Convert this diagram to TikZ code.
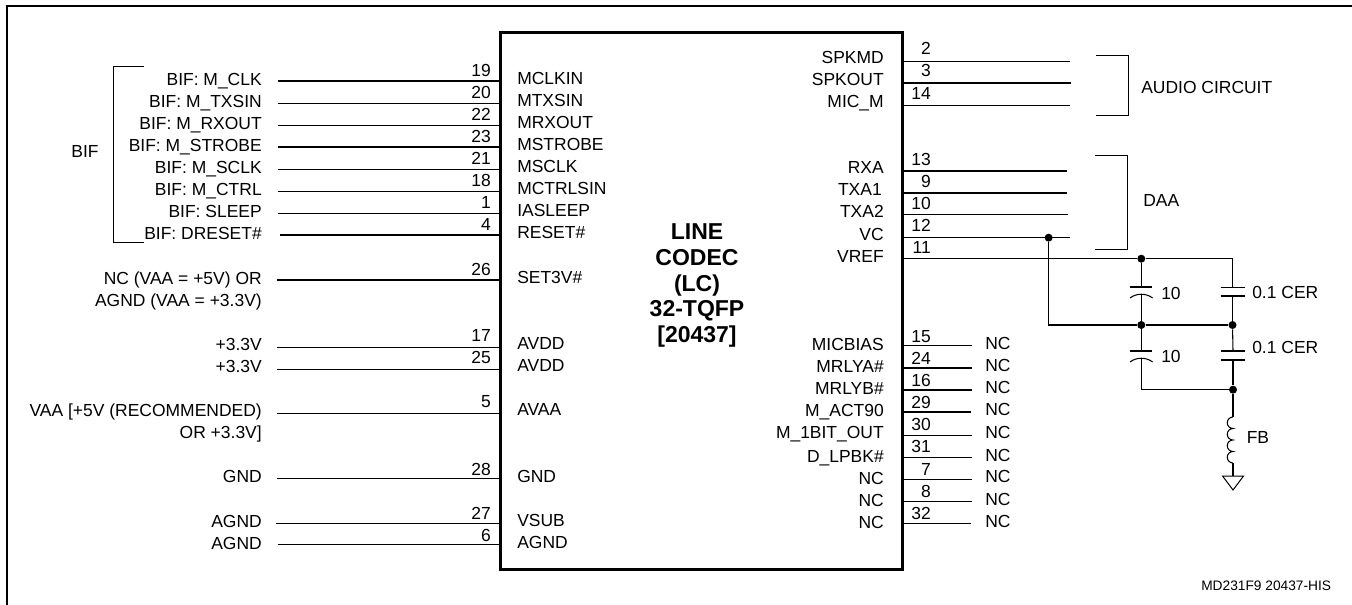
\documentclass[tikz,border=0pt]{standalone}
\usepackage{fontspec}
\setmainfont{Liberation Sans}
\usetikzlibrary{positioning, calc}
\tikzstyle{frameline} = [line width=1.5pt]
\tikzstyle{chipbox} = [rectangle, draw=black, line width=2.25pt, inner sep=0pt, minimum width=301pt, minimum height=403pt]
\tikzstyle{wire} = [line width=0.8pt]
\tikzstyle{heavywire} = [line width=1.3pt]
\tikzstyle{bracket} = [line width=0.75pt]
\tikzstyle{sig} = [inner sep=0pt, anchor=base east, font=\fontsize{13.1}{15}\selectfont]
\tikzstyle{pinname} = [inner sep=0pt, anchor=base west, font=\fontsize{13.1}{15}\selectfont]
\tikzstyle{outname} = [inner sep=0pt, anchor=base east, font=\fontsize{13.1}{15}\selectfont]
\tikzstyle{pinnum} = [inner sep=0pt, anchor=base east, font=\fontsize{13.1}{15}\selectfont]
\tikzstyle{note} = [inner sep=0pt, anchor=base west, font=\fontsize{13.1}{15}\selectfont]
\tikzstyle{dot} = [circle, fill=black, inner sep=0pt, minimum size=6pt]
\begin{document}
\begin{tikzpicture}[x=0.75pt, y=-0.75pt]
\useasboundingbox (0,0) rectangle (1352,605);

% Outer frame
\coordinate (frame_bl) at (6.5,605);
\coordinate (frame_tl) at (6.5,6);
\coordinate (frame_tr) at (1352,6);
\draw[frameline] (frame_bl) -- (frame_tl) -- (frame_tr);

% Chip
\node[chipbox] (chip) at (701.5,301) {};
\node[inner sep=0pt, align=center, font=\fontsize{17.25}{19.3}\bfseries\selectfont] (chip_title) at (697,285.5) {LINE\\CODEC\\(LC)\\32-TQFP\\{[20437]}};

% BIF group
\node[sig, anchor=base] (bif_label) at (85,158) {BIF};
\coordinate (bif_t) at (144,66.5);
\coordinate (bif_b) at (144,243);
\draw[bracket] (bif_t) -- ++(-31,0) |- (bif_b);

% Left signals
\node[sig] (s_clk) at (262,86) {BIF: M\_CLK};
\node[sig] (s_txsin) at (262,108) {BIF: M\_TXSIN};
\node[sig] (s_rxout) at (262,130) {BIF: M\_RXOUT};
\node[sig] (s_strobe) at (262,152) {BIF: M\_STROBE};
\node[sig] (s_sclk) at (262,174) {BIF: M\_SCLK};
\node[sig] (s_ctrl) at (262,196) {BIF: M\_CTRL};
\node[sig] (s_sleep) at (262,218) {BIF: SLEEP};
\node[sig] (s_dreset) at (262,240) {BIF: DRESET\#};
\node[sig] (s_nc) at (262,285) {NC (VAA = +5V) OR};
\node[sig] (s_agnd33) at (262,307) {AGND (VAA = +3.3V)};
\node[sig] (s_p33a) at (262,351) {+3.3V};
\node[sig] (s_p33b) at (262,373) {+3.3V};
\node[sig] (s_vaa) at (262,417) {VAA [+5V (RECOMMENDED)};
\node[sig] (s_or33) at (262,439) {OR +3.3V]};
\node[sig] (s_gnd) at (262,483) {GND};
\node[sig] (s_agnda) at (262,527) {AGND};
\node[sig] (s_agndb) at (262,549) {AGND};

% Left pin names
\node[pinname] (p_mclkin) at (517,85) {MCLKIN};
\node[pinname] (p_mtxsin) at (517,107) {MTXSIN};
\node[pinname] (p_mrxout) at (517,129) {MRXOUT};
\node[pinname] (p_mstrobe) at (517,151) {MSTROBE};
\node[pinname] (p_msclk) at (517,173) {MSCLK};
\node[pinname] (p_mctrlsin) at (517,195) {MCTRLSIN};
\node[pinname] (p_iasleep) at (517,217) {IASLEEP};
\node[pinname] (p_reset) at (517,239) {RESET\#};
\node[pinname] (p_set3v) at (517,284) {SET3V\#};
\node[pinname] (p_avdda) at (517,350) {AVDD};
\node[pinname] (p_avddb) at (517,372) {AVDD};
\node[pinname] (p_avaa) at (517,416) {AVAA};
\node[pinname] (p_gnd) at (517,482) {GND};
\node[pinname] (p_vsub) at (517,526) {VSUB};
\node[pinname] (p_agnd) at (517,548) {AGND};

% Left pin numbers
\node[pinnum] (n19) at (491,77) {19};
\node[pinnum] (n20) at (491,99) {20};
\node[pinnum] (n22) at (491,121) {22};
\node[pinnum] (n23) at (491,143) {23};
\node[pinnum] (n21) at (491,165) {21};
\node[pinnum] (n18) at (491,187) {18};
\node[pinnum] (n1) at (491,209) {1};
\node[pinnum] (n4) at (491,231) {4};
\node[pinnum] (n26) at (491,276) {26};
\node[pinnum] (n17) at (491,342) {17};
\node[pinnum] (n25) at (491,364) {25};
\node[pinnum] (n5) at (491,408) {5};
\node[pinnum] (n28) at (491,475) {28};
\node[pinnum] (n27) at (491,519) {27};
\node[pinnum] (n6) at (491,541) {6};

% Left wire ends
\coordinate (w19) at (278,81);
\coordinate (w20) at (278,103.5);
\coordinate (w22) at (278,125.5);
\coordinate (w23) at (278,147);
\coordinate (w21) at (278,169.5);
\coordinate (w18) at (278,191.5);
\coordinate (w1) at (278,213.5);
\coordinate (w4) at (280,235);
\coordinate (w26) at (277,280);
\coordinate (w17) at (277,347.5);
\coordinate (w25) at (277,369.5);
\coordinate (w5) at (277,413.5);
\coordinate (w28) at (277,478.5);
\coordinate (w27) at (276,523.5);
\coordinate (w6) at (278,544.5);

\draw[wire] (w19) -- (w19 -| chip.west);
\draw[wire] (w20) -- (w20 -| chip.west);
\draw[wire] (w22) -- (w22 -| chip.west);
\draw[wire] (w23) -- (w23 -| chip.west);
\draw[wire] (w21) -- (w21 -| chip.west);
\draw[wire] (w18) -- (w18 -| chip.west);
\draw[wire] (w1) -- (w1 -| chip.west);
\draw[wire] (w4) -- (w4 -| chip.west);
\draw[wire] (w26) -- (w26 -| chip.west);
\draw[wire] (w17) -- (w17 -| chip.west);
\draw[wire] (w25) -- (w25 -| chip.west);
\draw[wire] (w5) -- (w5 -| chip.west);
\draw[wire] (w28) -- (w28 -| chip.west);
\draw[wire] (w27) -- (w27 -| chip.west);
\draw[wire] (w6) -- (w6 -| chip.west);

% Right pin names
\node[outname] (p_spkmd) at (884,64) {SPKMD};
\node[outname] (p_spkout) at (884,86) {SPKOUT};
\node[outname] (p_micm) at (884,108) {MIC\_M};
\node[outname] (p_rxa) at (884,174) {RXA};
\node[outname] (p_txa1) at (882,196) {TXA1};
\node[outname] (p_txa2) at (884,218) {TXA2};
\node[outname] (p_vc) at (884,241) {VC};
\node[outname] (p_vref) at (884,263) {VREF};
\node[outname] (p_micbias) at (884,351) {MICBIAS};
\node[outname] (p_mrlya) at (884,373) {MRLYA\#};
\node[outname] (p_mrlyb) at (884,395) {MRLYB\#};
\node[outname] (p_mact) at (884,417) {M\_ACT90};
\node[outname] (p_m1bit) at (884,439) {M\_1BIT\_OUT};
\node[outname] (p_dlpbk) at (884,462) {D\_LPBK\#};
\node[outname] (p_nca) at (884,484) {NC};
\node[outname] (p_ncb) at (884,506) {NC};
\node[outname] (p_ncc) at (884,528) {NC};

% Right pin numbers
\node[pinnum] (n2) at (931,55) {2};
\node[pinnum] (n3) at (931,77) {3};
\node[pinnum] (n14) at (931,100) {14};
\node[pinnum] (n13) at (931,166) {13};
\node[pinnum] (n9) at (931,188) {9};
\node[pinnum] (n10) at (931,210) {10};
\node[pinnum] (n12) at (931,232) {12};
\node[pinnum] (n11) at (931,254) {11};
\node[pinnum] (n15) at (931,343) {15};
\node[pinnum] (n24) at (931,365) {24};
\node[pinnum] (n16) at (931,387) {16};
\node[pinnum] (n29) at (931,409) {29};
\node[pinnum] (n30) at (931,431) {30};
\node[pinnum] (n31) at (931,453) {31};
\node[pinnum] (n7) at (931,475) {7};
\node[pinnum] (n8) at (931,497) {8};
\node[pinnum] (n32) at (931,519) {32};

% Right wire ends
\coordinate (w2) at (1070,61.7);
\coordinate (w3) at (1071,83);
\coordinate (w14) at (1070,105.3);
\coordinate (w13) at (1067,171);
\coordinate (w9) at (1067,192.7);
\coordinate (w10) at (1068,214.5);
\coordinate (w12) at (1070,237.7);
\coordinate (w15) at (972,345.7);
\coordinate (w24) at (972,368);
\coordinate (w16) at (972,390);
\coordinate (w29) at (971,412);
\coordinate (w30) at (972,435.3);
\coordinate (w31) at (972,457.3);
\coordinate (w7) at (972,479.3);
\coordinate (w8) at (972,501.7);
\coordinate (w32) at (971,523.7);

\draw[wire] (chip.east |- w2) -- (w2);
\draw[wire] (chip.east |- w3) -- (w3);
\draw[wire] (chip.east |- w14) -- (w14);
\draw[heavywire] (chip.east |- w13) -- (w13);
\draw[heavywire] (chip.east |- w9) -- (w9);
\draw[wire] (chip.east |- w10) -- (w10);
\draw[wire] (chip.east |- w12) -- (w12);
\draw[wire] (chip.east |- w15) -- (w15);
\draw[wire] (chip.east |- w24) -- (w24);
\draw[wire] (chip.east |- w16) -- (w16);
\draw[wire] (chip.east |- w29) -- (w29);
\draw[wire] (chip.east |- w30) -- (w30);
\draw[wire] (chip.east |- w31) -- (w31);
\draw[wire] (chip.east |- w7) -- (w7);
\draw[wire] (chip.east |- w8) -- (w8);
\draw[wire] (chip.east |- w32) -- (w32);

% NC labels
\node[note] (nc15) at (985,350) {NC};
\node[note] (nc24) at (985,372) {NC};
\node[note] (nc16) at (985,394) {NC};
\node[note] (nc29) at (985,416) {NC};
\node[note] (nc30) at (985,439) {NC};
\node[note] (nc31) at (985,461) {NC};
\node[note] (nc7) at (985,483) {NC};
\node[note] (nc8) at (985,505) {NC};
\node[note] (nc32) at (985,527) {NC};

% Audio and DAA brackets
\coordinate (audio_t) at (1096,55.3);
\coordinate (audio_b) at (1096,116);
\draw[bracket] (audio_t) -- ++(32.5,0) |- (audio_b);
\node[note] (audio_label) at (1141,93.5) {AUDIO CIRCUIT};
\coordinate (daa_t) at (1095,156);
\coordinate (daa_b) at (1095,250);
\draw[bracket] (daa_t) -- ++(32.5,0) |- (daa_b);
\node[note] (daa_label) at (1143,207) {DAA};

% VREF network
\node[dot] (vc_dot) at (1048.6,237.7) {};
\node[dot] (vref_dot) at (1141.3,258.7) {};
\node[dot] (mid_l) at (1141.3,325) {};
\node[dot] (mid_r) at (1232.5,325) {};
\node[dot] (bot_r) at (1233,389.7) {};
\coordinate (vref_r) at (1232.5,258.7);
\coordinate (bot_l) at (1141.3,389.7);
\draw[wire] (chip.east |- vref_dot) -- (vref_dot) -- (vref_r);
\draw[wire] (vc_dot) |- (mid_l) -- (mid_r);

% Capacitors, upper row
\coordinate (c1_t) at (1141.3,287);
\coordinate (c1_b) at (1141.3,294);
\coordinate (c2_t) at (1232.5,287.3);
\coordinate (c2_b) at (1232.5,296);
\draw[wire] (vref_dot) -- (c1_t);
\draw[wire] (c1_b) -- (mid_l);
\draw[wire] (vref_r) -- (c2_t);
\draw[wire] (c2_b) -- (mid_r);
\draw[wire] ($(c1_t)+(-11,0)$) -- ($(c1_t)+(11,0)$);
\draw[wire] ($(c1_b)+(-11.3,4)$) .. controls ($(c1_b)+(-5,-1)$) and ($(c1_b)+(5,-1)$) .. ($(c1_b)+(11.3,4)$);
\draw[wire] ($(c2_t)+(-12,0)$) -- ($(c2_t)+(12,0)$);
\draw[wire] ($(c2_b)+(-12,0)$) -- ($(c2_b)+(12,0)$);
\node[note] (c1_label) at (1161,300) {10};
\node[note] (c2_label) at (1252,299) {0.1 CER};

% Capacitors, lower row
\coordinate (c3_t) at (1141.3,351);
\coordinate (c3_b) at (1141.3,358);
\coordinate (c4_t) at (1233,351);
\coordinate (c4_b) at (1233,360);
\draw[wire] (mid_l) -- (c3_t);
\draw[wire] (c3_b) -- (bot_l) -- (bot_r);
\draw[wire] (mid_r) -- (c4_t);
\draw[wire] (c4_b) -- (bot_r);
\draw[wire] ($(c3_t)+(-11,0)$) -- ($(c3_t)+(11,0)$);
\draw[wire] ($(c3_b)+(-11.3,4)$) .. controls ($(c3_b)+(-5,-1)$) and ($(c3_b)+(5,-1)$) .. ($(c3_b)+(11.3,4)$);
\draw[wire] ($(c4_t)+(-12,0)$) -- ($(c4_t)+(12,0)$);
\draw[wire] ($(c4_b)+(-12,0)$) -- ($(c4_b)+(12,0)$);
\node[note] (c3_label) at (1161,363) {10};
\node[note] (c4_label) at (1252,354) {0.1 CER};

% Ferrite bead and ground
\coordinate (fb_t) at (1233,417);
\coordinate (fb_b) at (1233,463);
\coordinate (gnd_t) at (1233,476);
\draw[wire] (bot_r) -- (fb_t);
\draw[wire] (fb_t) arc (270:90:5.75) arc (270:90:5.75) arc (270:90:5.75) arc (270:90:5.75);
\draw[wire] (fb_b) -- (gnd_t);
\draw[bracket] ($(gnd_t)+(-10.5,0)$) -- ($(gnd_t)+(10.5,0)$) -- ($(gnd_t)+(0,14)$) -- cycle;
\node[note] (fb_label) at (1246.5,444) {FB};

% Figure number
\node[note, font=\fontsize{10.3}{12}\selectfont] (fig_id) at (1201,590) {MD231F9 20437-HIS};

\end{tikzpicture}
\end{document}
